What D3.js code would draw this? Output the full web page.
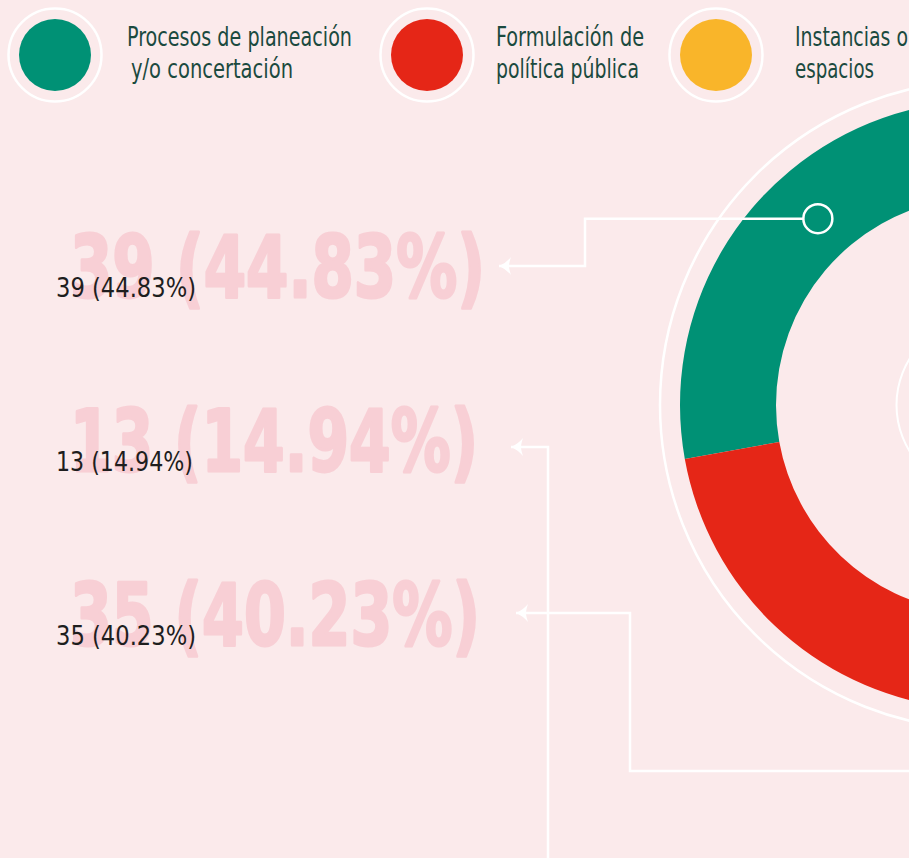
<!DOCTYPE html>
<html>
<head>
<meta charset="utf-8">
<script src="https://cdn.jsdelivr.net/npm/d3@7"></script>
<style>
  body { margin: 0; background: #fbeaeb; overflow: hidden; }
  svg { display: block; }
</style>
</head>
<body>
<svg id="chart" width="909" height="858"></svg>
<script>
// data
var categories = ["Procesos de planeación y/o concertación", "Instancias o espacios", "Formulación de política pública"];
var values = [39, 13, 35];
var percents = ["44.83%", "14.94%", "40.23%"];
var colors = ["#009175", "#f9b52a", "#e52617"];

// legend (order as drawn at the top)
var legendLines = [
  ["Procesos de planeación", " y/o concertación"],
  ["Formulación de", "política pública"],
  ["Instancias o", "espacios"]
];
var legendColors = ["#009175", "#e52617", "#f9b52a"];

var width = 909, height = 858;
var svg = d3.select("#chart");
var deg = Math.PI / 180;

// donut, most of it sits off the right edge
var cx = 984.5, cy = 405;
var rInner = 208.5, rOuter = 304.5;

var pie = d3.pie()
    .sort(null)
    .startAngle(-100.2 * deg)
    .endAngle(259.8 * deg);

var arc = d3.arc().innerRadius(rInner).outerRadius(rOuter);

var donut = svg.append("g").attr("transform", "translate(" + cx + "," + cy + ")");

donut.append("circle")
    .attr("r", 324.5)
    .attr("fill", "none")
    .attr("stroke", "#fff")
    .attr("stroke-width", 2.5);

donut.selectAll(".slice")
    .data(pie(values))
    .enter().append("path")
    .attr("class", "slice")
    .attr("d", arc)
    .attr("fill", function(d, i) { return colors[i]; });

donut.append("circle")
    .attr("r", 88)
    .attr("fill", "none")
    .attr("stroke", "#fff")
    .attr("stroke-width", 2);

// legend
var legendX = [55, 427, 716];
var legendTextX = [72, 69, 79];
var legendWidths = [[225, 162], [148, 143], [113, 79]];

var legend = svg.selectAll(".legend")
    .data(legendLines)
    .enter().append("g")
    .attr("class", "legend")
    .attr("transform", function(d, i) { return "translate(" + legendX[i] + ",55)"; });

legend.append("circle")
    .attr("r", 46.5)
    .attr("fill", "none")
    .attr("stroke", "#fff")
    .attr("stroke-width", 2.5);

legend.append("circle")
    .attr("r", 36)
    .attr("fill", function(d, i) { return legendColors[i]; });

legend.each(function(lines, i) {
    var g = d3.select(this);
    lines.forEach(function(line, j) {
        g.append("text")
            .attr("x", legendTextX[i] + (line.charAt(0) == " " ? 4 : 0))
            .attr("y", j == 0 ? -9 : 23)
            .attr("fill", "#1b4a3f")
            .attr("textLength", legendWidths[i][j])
            .attr("lengthAdjust", "spacingAndGlyphs")
            .style("font-family", "'DejaVu Sans Condensed', sans-serif")
            .style("font-size", "26px")
            .text(line.trim());
    });
});

// labels on the left
var rowY = [297, 471, 645];
var bigWidth = [415, 408, 410];
var smallWidth = [140, 137, 140];

var labels = svg.selectAll(".label")
    .data(values)
    .enter().append("g")
    .attr("class", "label")
    .attr("transform", function(d, i) { return "translate(0," + rowY[i] + ")"; });

labels.append("text")
    .attr("x", 70)
    .attr("fill", "#f8cfd5")
    .attr("stroke", "#f8cfd5")
    .attr("stroke-width", 3)
    .attr("stroke-linejoin", "round")
    .attr("textLength", function(d, i) { return bigWidth[i]; })
    .attr("lengthAdjust", "spacingAndGlyphs")
    .style("font-family", "'DejaVu Sans', sans-serif")
    .style("font-weight", "bold")
    .style("font-size", "86px")
    .text(function(d, i) { return d + " (" + percents[i] + ")"; });

labels.append("text")
    .attr("x", 56)
    .attr("fill", "#1e1e1e")
    .attr("textLength", function(d, i) { return smallWidth[i]; })
    .attr("lengthAdjust", "spacingAndGlyphs")
    .style("font-family", "'DejaVu Sans Condensed', sans-serif")
    .style("font-size", "27px")
    .text(function(d, i) { return d + " (" + percents[i] + ")"; });

// leader lines with arrow heads
var marker = svg.append("defs").append("marker")
    .attr("id", "arrow")
    .attr("viewBox", "-14 -9 15 18")
    .attr("refX", 0)
    .attr("refY", 0)
    .attr("markerWidth", 15)
    .attr("markerHeight", 18)
    .attr("markerUnits", "userSpaceOnUse")
    .attr("orient", "auto");
marker.append("path")
    .attr("d", "M0,0 Q-7,-3 -12,-9 Q-10,-3 -10,0 Q-10,3 -12,9 Q-7,3 0,0Z")
    .attr("fill", "#fff");

// marker point on the green slice
var greenMark = d3.arc().innerRadius(250).outerRadius(250)
    .startAngle(-41.8 * deg).endAngle(-41.8 * deg).centroid();
var gx = cx + greenMark[0], gy = cy + greenMark[1];

var leaders = [
  [[gx - 14.5, gy], [585, gy], [585, 266], [499, 266]],
  [[548, 870], [548, 447], [511, 447]],
  [[920, 771], [630, 771], [630, 613], [516, 613]]
];

var line = d3.line();
svg.selectAll(".leader")
    .data(leaders)
    .enter().append("path")
    .attr("class", "leader")
    .attr("d", line)
    .attr("fill", "none")
    .attr("stroke", "#fff")
    .attr("stroke-width", 2.5)
    .attr("marker-end", "url(#arrow)");

svg.append("circle")
    .attr("cx", gx)
    .attr("cy", gy)
    .attr("r", 14.5)
    .attr("fill", "none")
    .attr("stroke", "#fff")
    .attr("stroke-width", 2.5);
</script>
</body>
</html>
